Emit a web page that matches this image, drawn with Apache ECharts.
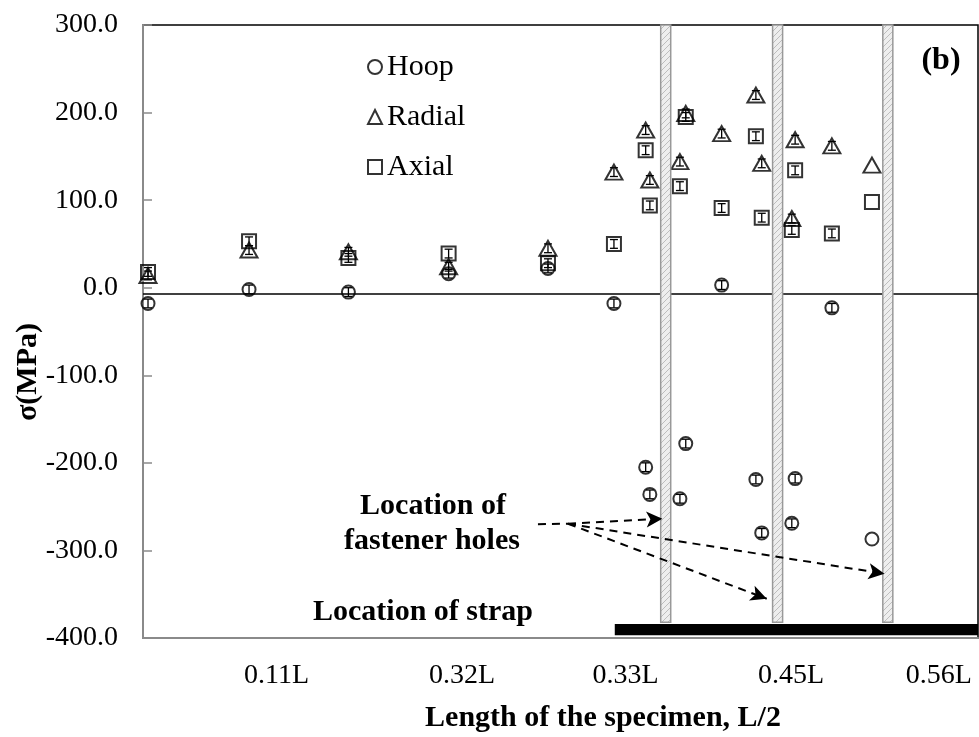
<!DOCTYPE html>
<html>
<head>
<meta charset="utf-8">
<script src="https://cdn.jsdelivr.net/npm/echarts@6/dist/echarts.min.js"></script>
<style>
  html, body { margin: 0; padding: 0; background: #fff; }
  #chart { width: 979px; height: 737px; }
</style>
</head>
<body>
<div id="chart"></div>
<script>
// positions along the half length (0..100 of the plotted span)
const xPos = [0.6, 12.7, 24.6, 36.6, 48.5, 56.4, 60.2, 60.7, 64.3, 65.0, 69.3, 73.4, 74.1, 77.7, 78.1, 82.5, 87.3]
const hoop = [-18, -2, -5, 16, 22, -18, -205, -236, -241, -178, 3, -219, -280, -269, -218, -23, -287]
const radial = [14, 43, 41, 24, 45, 132, 180, 123, 144, 199, 176, 220, 142, 79, 169, 162, 140]
const axial = [18, 53, 34, 39, 28, 50, 157, 94, 116, 195, 91, 173, 80, 66, 134, 62, 98]
const errHoop = [5, 5, 5, 5, 5, 5, 5, 5, 5, 5, 5, 5, 5, 5, 5, 5, 0]
const errRadial = [5, 5, 5, 5, 5, 5, 5, 5, 5, 5, 5, 5, 5, 5, 5, 5, 0]
const errAxial = [5, 5, 5, 5, 5, 5, 5, 5, 5, 5, 5, 5, 5, 5, 5, 5, 0]

const tickPos = [16.0, 38.2, 57.8, 77.6, 95.3]
const tickLabels = ['0.11L', '0.32L', '0.33L', '0.45L', '0.56L']

// fastener holes and strap
const holeX = [62.6, 76.0, 89.2]
const holeHalfWidth = 0.6
const holeBottom = -382
const strapX = [56.5, 100]
const strapY = [-397, -384]
const zeroLineY = -7.4

// dashed leader lines: start point, then arrow ends
const leaderStart = [[47.3, -270], [50.9, -269.5]]
const arrowEnds = [[62.2, -263.8], [74.7, -355.2], [88.8, -326.6]]

const FONT = 'Liberation Serif, Times New Roman, serif'

function hatch() {
  const c = document.createElement('canvas')
  c.width = 6
  c.height = 6
  const g = c.getContext('2d')
  g.fillStyle = '#eeeeee'
  g.fillRect(0, 0, 6, 6)
  g.strokeStyle = '#bdbdbd'
  g.lineWidth = 1
  g.beginPath()
  g.moveTo(0, 6)
  g.lineTo(6, 0)
  g.stroke()
  return c
}

function pairs(ys, errs) {
  return xPos.map(function(x, i) {
    return [x, ys[i], errs[i]]
  })
}

function errorBars(name, ys, errs) {
  return {
    name: name + ' err',
    type: 'custom',
    z: 5,
    silent: true,
    data: pairs(ys, errs),
    renderItem: function(params, api) {
      const e = api.value(2)
      if (!e) return null
      const x = api.value(0)
      const y = api.value(1)
      const top = api.coord([x, y + e])
      const bot = api.coord([x, y - e])
      const w = 4
      const style = { stroke: '#000', lineWidth: 1.3 }
      return {
        type: 'group',
        children: [
          { type: 'line', shape: { x1: top[0], y1: top[1], x2: bot[0], y2: bot[1] }, style: style },
          { type: 'line', shape: { x1: top[0] - w, y1: top[1], x2: top[0] + w, y2: top[1] }, style: style },
          { type: 'line', shape: { x1: bot[0] - w, y1: bot[1], x2: bot[0] + w, y2: bot[1] }, style: style }
        ]
      }
    }
  }
}

const chart = echarts.init(document.getElementById('chart'))

const markerStyle = { color: 'transparent', borderColor: '#000', borderWidth: 2 }

chart.setOption({
  animation: false,
  backgroundColor: '#fff',
  textStyle: { fontFamily: FONT },
  grid: {
    left: 143,
    top: 25,
    right: 1,
    bottom: 99,
    containLabel: false,
    outerBoundsMode: 'none',
    show: true,
    borderColor: '#000',
    borderWidth: 1.5
  },
  legend: {
    orient: 'vertical',
    left: 362,
    top: 47,
    itemGap: 20,
    itemWidth: 14,
    itemHeight: 14,
    data: ['Hoop', 'Radial', 'Axial'],
    textStyle: { fontFamily: FONT, fontSize: 30, color: '#000' }
  },
  xAxis: {
    type: 'value',
    min: 0,
    max: 100,
    splitLine: { show: false },
    axisTick: { show: false },
    axisLine: { onZero: false, lineStyle: { color: '#8a8a8a', width: 2 } },
    axisLabel: {
      customValues: tickPos,
      margin: 24,
      fontFamily: FONT,
      fontSize: 28,
      color: '#000',
      formatter: function(v) {
        const i = tickPos.indexOf(v)
        return i >= 0 ? tickLabels[i] : ''
      }
    }
  },
  yAxis: {
    type: 'value',
    min: -400,
    max: 300,
    interval: 100,
    splitLine: { show: false },
    axisLine: { show: true, onZero: false, lineStyle: { color: '#8a8a8a', width: 2 } },
    axisTick: { show: true, inside: true, length: 9, lineStyle: { color: '#8a8a8a', width: 1.5 } },
    axisLabel: {
      margin: 25,
      fontFamily: FONT,
      fontSize: 28,
      color: '#000',
      formatter: function(v) { return v.toFixed(1) }
    }
  },
  graphic: [
    {
      type: 'text', x: 28, y: 372, rotation: Math.PI / 2,
      style: { text: 'σ(MPa)', font: 'bold 30px ' + FONT, fill: '#000', align: 'center', verticalAlign: 'middle' }
    },
    {
      type: 'text', x: 603, y: 718,
      style: { text: 'Length of the specimen, L/2', font: 'bold 30px ' + FONT, fill: '#000', align: 'center', verticalAlign: 'middle' }
    },
    {
      type: 'text', x: 941, y: 61, z: 10,
      style: { text: '(b)', font: 'bold 32px ' + FONT, fill: '#000', align: 'center', verticalAlign: 'middle' }
    },
    {
      type: 'text', x: 433, y: 506, z: 10,
      style: { text: 'Location of', font: 'bold 30px ' + FONT, fill: '#000', align: 'center', verticalAlign: 'middle' }
    },
    {
      type: 'text', x: 432, y: 541, z: 10,
      style: { text: 'fastener holes', font: 'bold 30px ' + FONT, fill: '#000', align: 'center', verticalAlign: 'middle' }
    },
    {
      type: 'text', x: 423, y: 612, z: 10,
      style: { text: 'Location of strap', font: 'bold 30px ' + FONT, fill: '#000', align: 'center', verticalAlign: 'middle' }
    }
  ],
  series: [
    {
      name: 'Hoop',
      type: 'scatter',
      symbol: 'circle',
      symbolSize: 13,
      z: 4,
      itemStyle: markerStyle,
      data: pairs(hoop, errHoop),
      markLine: {
        silent: true,
        z: 2,
        symbol: 'none',
        label: { show: false },
        lineStyle: { color: '#000', width: 1.5, type: 'solid' },
        data: [{ yAxis: zeroLineY }]
      },
      markArea: {
        silent: true,
        z: 6,
        data: holeX.map(function(x) {
          return [
            { xAxis: x - holeHalfWidth, yAxis: holeBottom, itemStyle: { color: { image: hatch(), repeat: 'repeat' }, borderColor: '#999', borderWidth: 1.5 } },
            { xAxis: x + holeHalfWidth, yAxis: 300 }
          ]
        }).concat([[
          { xAxis: strapX[0], yAxis: strapY[0], itemStyle: { color: '#000', borderWidth: 0 } },
          { xAxis: strapX[1], yAxis: strapY[1] }
        ]])
      }
    },
    {
      name: 'Radial',
      type: 'scatter',
      symbol: 'triangle',
      symbolSize: [17, 15],
      z: 4,
      itemStyle: markerStyle,
      data: pairs(radial, errRadial),
      markLine: {
        silent: true,
        z: 8,
        symbol: ['none', 'arrow'],
        symbolSize: [12, 16],
        label: { show: false },
        lineStyle: { color: '#000', width: 2, type: [8, 6] },
        data: [
          [{ coord: leaderStart[0], symbol: 'none' }, { coord: leaderStart[1], symbol: 'none' }]
        ].concat(arrowEnds.map(function(p) {
          return [{ coord: leaderStart[1] }, { coord: p }]
        }))
      }
    },
    {
      name: 'Axial',
      type: 'scatter',
      symbol: 'rect',
      symbolSize: 14,
      z: 4,
      itemStyle: markerStyle,
      data: pairs(axial, errAxial)
    },
    errorBars('Hoop', hoop, errHoop),
    errorBars('Radial', radial, errRadial),
    errorBars('Axial', axial, errAxial)
  ]
})
</script>
</body>
</html>
